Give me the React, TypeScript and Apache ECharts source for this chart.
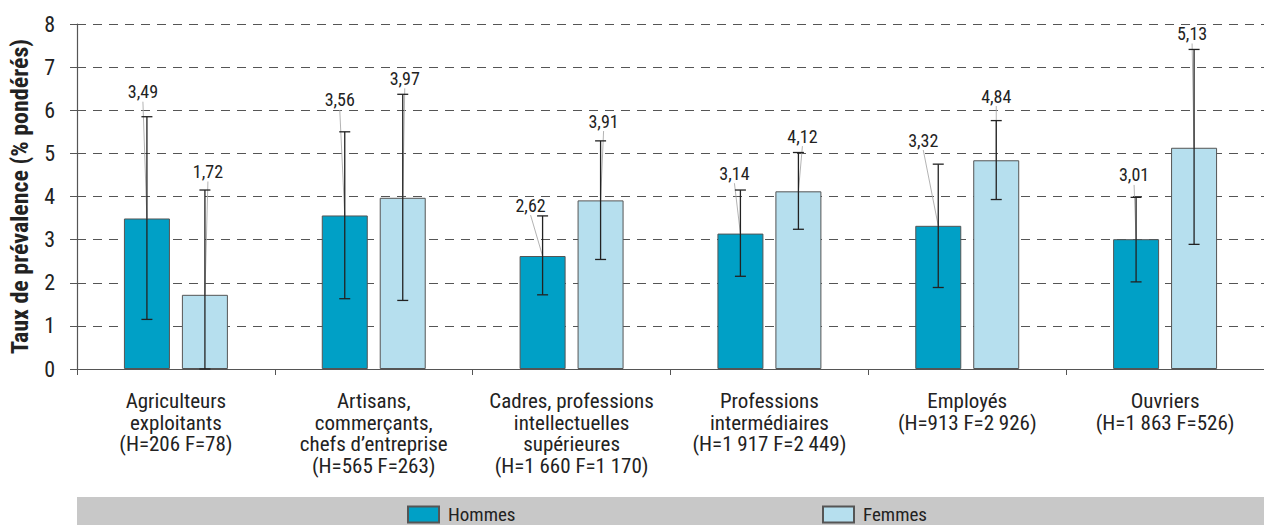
import React, { useEffect, useRef } from "react";
import * as echarts from "echarts";

const categories = [
  "Agriculteurs\nexploitants\n(H=206 F=78)",
  "Artisans,\ncommerçants,\nchefs d’entreprise\n(H=565 F=263)",
  "Cadres, professions\nintellectuelles\nsupérieures\n(H=1 660 F=1 170)",
  "Professions\nintermédiaires\n(H=1 917 F=2 449)",
  "Employés\n(H=913 F=2 926)",
  "Ouvriers\n(H=1 863 F=526)",
];

const hommes = [3.49, 3.56, 2.62, 3.14, 3.32, 3.01];
const hommesLow = [1.15, 1.63, 1.72, 2.15, 1.89, 2.02];
const hommesHigh = [5.85, 5.5, 3.55, 4.15, 4.75, 3.98];

const femmes = [1.72, 3.97, 3.91, 4.12, 4.84, 5.13];
const femmesLow = [0, 1.59, 2.54, 3.24, 3.93, 2.89];
const femmesHigh = [4.15, 6.37, 5.29, 5.02, 5.76, 7.41];

const yTicks = [0, 1, 2, 3, 4, 5, 6, 7, 8];

// label placement (layout, in axis units / pixels)
const hommesLabelLevel = [6.43, 6.24, 3.8, 4.54, 5.31, 4.5];
const hommesLabelDx = [-4, -5, -12, -6, -15, -2];
const femmesLabelLevel = [4.58, 6.74, 5.75, 5.4, 6.33, 7.78];
const femmesLabelDx = [3, 2, 3, 4, 0, -2];

const FONT = "'Liberation Sans Narrow', 'Roboto Condensed', 'DejaVu Sans Condensed', 'Liberation Sans', sans-serif";
const BAR_W = 46;
const OFFSET = 29;

const fmt = (v: number) => v.toFixed(2).replace(".", ",");

function errorSeries(
  name: string,
  vals: number[],
  lows: number[],
  highs: number[],
  levels: number[],
  dxs: number[],
  dir: number
) {
  return {
    type: "custom",
    name: name + "-err",
    z: 5,
    silent: true,
    data: vals.map((v, i) => [i, lows[i], highs[i], v, levels[i], dxs[i]]),
    renderItem: (params: any, api: any) => {
      const idx = api.value(0);
      const lo = api.coord([idx, api.value(1)]);
      const hi = api.coord([idx, api.value(2)]);
      const top = api.coord([idx, api.value(3)]);
      const lab = api.coord([idx, api.value(4)]);
      const cx = lo[0] + dir * OFFSET;
      const lx = cx + api.value(5);
      const ly = lab[1];
      const cap = 5.5;
      const st = { stroke: "#222", lineWidth: 1.3 };
      return {
        type: "group",
        children: [
          {
            type: "line",
            shape: { x1: lx, y1: ly + 10, x2: cx, y2: top[1] },
            style: { stroke: "#aaa", lineWidth: 0.9 },
          },
          { type: "line", shape: { x1: cx, y1: lo[1], x2: cx, y2: hi[1] }, style: st },
          { type: "line", shape: { x1: cx - cap, y1: hi[1], x2: cx + cap, y2: hi[1] }, style: st },
          { type: "line", shape: { x1: cx - cap, y1: lo[1], x2: cx + cap, y2: lo[1] }, style: st },
          {
            type: "text",
            style: {
              text: fmt(api.value(3)),
              x: lx,
              y: ly,
              align: "center",
              verticalAlign: "middle",
              fontSize: 18,
              fontFamily: FONT,
              fill: "#222",
            },
          },
        ],
      };
    },
  };
}

export default function App() {
  const ref = useRef<HTMLDivElement>(null);
  useEffect(() => {
    document.body.style.margin = "0";
    const chart = echarts.init(ref.current!, undefined, { renderer: "svg" });
    const legendText = { fontSize: 19, lineHeight: 16, color: "#222", fontFamily: FONT, padding: [0, 0, 0, 4] };
    chart.setOption({
      animation: false,
      textStyle: { fontFamily: FONT },
      grid: { left: 75, right: -8, top: 24, bottom: 156, containLabel: false },
      graphic: [
        {
          type: "rect",
          shape: { x: 77, y: 497, width: 1187, height: 28 },
          style: { fill: "#c8c8c8" },
          z: -1,
        },
      ],
      legend: [
        {
          data: ["Hommes"],
          left: 407,
          top: 505,
          padding: 0,
          itemWidth: 31,
          itemHeight: 16,
          itemGap: 0,
          icon: "rect",
          textStyle: legendText,
        },
        {
          data: ["Femmes"],
          left: 822,
          top: 505,
          padding: 0,
          itemWidth: 31,
          itemHeight: 16,
          itemGap: 0,
          icon: "rect",
          textStyle: legendText,
        },
      ],
      xAxis: {
        type: "category",
        data: categories,
        axisLine: { lineStyle: { color: "#555", width: 1.2 } },
        axisTick: { show: true, length: 6, lineStyle: { color: "#555" } },
        axisLabel: {
          interval: 0,
          fontSize: 21,
          lineHeight: 21.7,
          color: "#222",
          margin: 21,
          fontFamily: FONT,
        },
      },
      yAxis: {
        type: "value",
        min: yTicks[0],
        max: yTicks[yTicks.length - 1],
        interval: 1,
        name: "Taux de prévalence (% pondérés)",
        nameLocation: "middle",
        nameGap: 45,
        nameTextStyle: { fontSize: 24, fontWeight: "bold", color: "#222", fontFamily: FONT },
        axisLine: { show: true, lineStyle: { color: "#555", width: 1.2 } },
        axisTick: { show: true, length: 7, lineStyle: { color: "#555" } },
        axisLabel: { fontSize: 22, color: "#222", margin: 22, fontFamily: FONT },
        splitLine: { lineStyle: { color: "#555", type: [9, 7], width: 1 } },
      },
      series: [
        {
          name: "Hommes",
          type: "bar",
          data: hommes,
          barWidth: BAR_W,
          barGap: "26%",
          itemStyle: { color: "#00a0c6", borderColor: "#555", borderWidth: 1 },
        },
        {
          name: "Femmes",
          type: "bar",
          data: femmes,
          barWidth: BAR_W,
          barGap: "26%",
          itemStyle: { color: "#b6dfee", borderColor: "#555", borderWidth: 1 },
        },
        errorSeries("Hommes", hommes, hommesLow, hommesHigh, hommesLabelLevel, hommesLabelDx, -1),
        errorSeries("Femmes", femmes, femmesLow, femmesHigh, femmesLabelLevel, femmesLabelDx, 1),
      ],
    });
    return () => chart.dispose();
  }, []);
  return <div ref={ref} style={{ width: 1264, height: 525 }} />;
}
